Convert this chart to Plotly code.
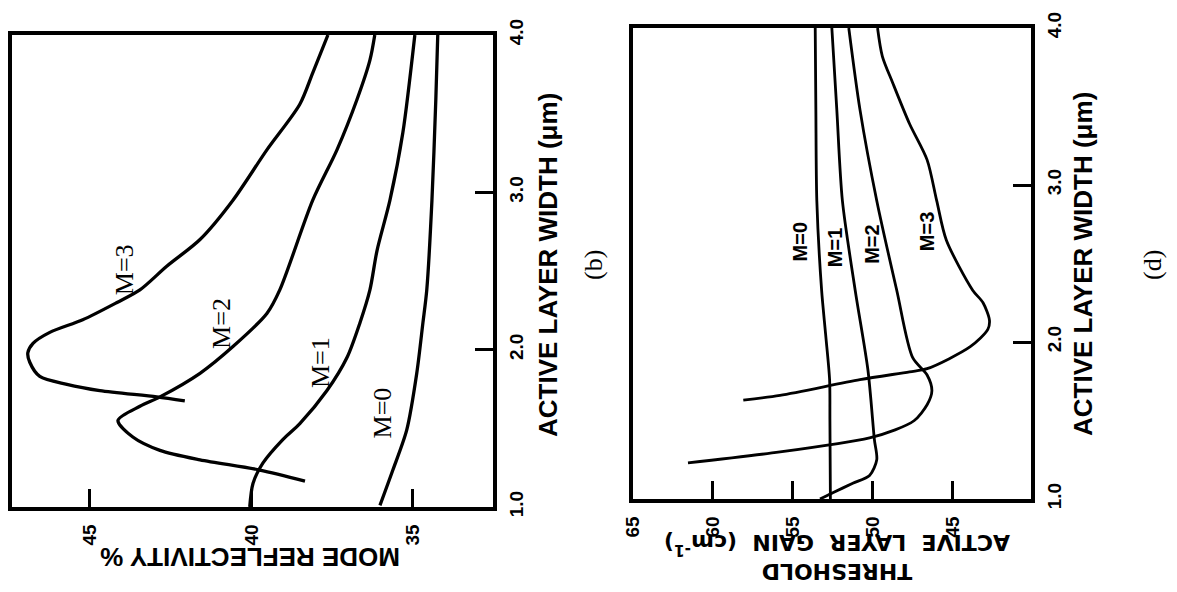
import plotly.graph_objects as go

# ---------------- Panel (b): mode reflectivity vs active layer width ----------------
b_m0_width = [1.01, 1.235, 1.49, 1.85, 2.17, 2.38, 2.95, 3.59, 4.0]
b_m0_refl = [36.02, 35.62, 35.19, 34.88, 34.69, 34.57, 34.41, 34.29, 34.23]

b_m1_width = [1.0, 1.15, 1.28, 1.43, 1.53, 1.74, 1.95, 2.17, 2.38, 2.63, 2.95, 3.38, 4.0]
b_m1_refl = [40.05, 39.95, 39.64, 39.02, 38.5, 37.66, 37.04, 36.64, 36.33, 36.11, 35.71, 35.31, 34.94]

b_m2_width = [1.165, 1.235, 1.30, 1.36, 1.445, 1.55, 1.64, 1.70, 1.85, 2.02, 2.23, 2.38, 2.95, 3.27, 3.59, 3.84, 4.0]
b_m2_refl = [38.34, 39.74, 41.59, 42.83, 43.67, 44.13, 43.45, 42.83, 41.59, 40.57, 39.52, 39.12, 38.10, 37.35, 36.73, 36.33, 36.18]

b_m3_width = [1.674, 1.70, 1.74, 1.78, 1.83, 1.92, 1.98, 2.04, 2.11, 2.19, 2.30, 2.38, 2.53, 2.70, 2.95, 3.27, 3.56, 3.76, 4.0]
b_m3_refl = [42.06, 42.93, 44.69, 45.71, 46.55, 46.86, 46.92, 46.76, 46.24, 45.22, 44.16, 43.45, 42.62, 41.59, 40.57, 39.52, 38.50, 38.10, 37.63]

b_labels = ["M=0", "M=1", "M=2", "M=3"]
b_label_refl = [35.93, 37.88, 40.91, 43.92]
b_label_width = [1.60, 1.92, 2.17, 2.51]

b_refl_ticks = [45, 40, 35]
b_width_ticks = [1.0, 2.0, 3.0, 4.0]
b_width_ticktext = ["1.0", "2.0", "3.0", "4.0"]

# ---------------- Panel (d): threshold gain vs active layer width ----------------
d_m0_width = [1.0, 1.5, 1.76, 2.05, 2.33, 2.9, 3.48, 4.0]
d_m0_gain = [52.65, 52.68, 52.7, 52.95, 53.2, 53.5, 53.56, 53.6]

d_m1_width = [1.0, 1.04, 1.10, 1.15, 1.25, 1.38, 1.82, 2.33, 2.90, 3.48, 4.0]
d_m1_gain = [53.3, 52.5, 51.25, 50.2, 49.75, 49.9, 50.3, 51.1, 51.9, 52.25, 52.56]

d_m2_width = [1.23, 1.30, 1.39, 1.44, 1.50, 1.60, 1.69, 1.79, 1.90, 2.33, 2.90, 3.48, 4.0]
d_m2_gain = [61.56, 55.8, 50.2, 48.6, 47.4, 46.6, 46.3, 46.6, 47.5, 48.5, 49.75, 50.8, 51.5]

d_m3_width = [1.63, 1.66, 1.76, 1.81, 1.83, 1.97, 2.08, 2.14, 2.25, 2.33, 2.65, 2.90, 3.16, 3.39, 3.65, 3.82, 4.0]
d_m3_gain = [58.1, 55.8, 50.8, 47.7, 46.6, 43.9, 42.8, 42.7, 43.1, 43.75, 45.4, 46.0, 46.6, 47.7, 48.75, 49.4, 49.7]

d_labels = ["M=0", "M=1", "M=2", "M=3"]
d_label_gain = [54.56, 52.4, 50.1, 46.6]
d_label_width = [2.64, 2.60, 2.62, 2.70]

d_gain_ticks = [65, 60, 55, 50, 45]
d_width_ticks = [1.0, 2.0, 3.0, 4.0]
d_width_ticktext = ["1.0", "2.0", "3.0", "4.0"]

W, H = 1177, 592


def px_x(p):
    return p / W


def px_y(p):
    return 1 - p / H


fig = go.Figure()

line_b = dict(color="black", width=3.3, shape="spline", smoothing=0.8)
line_d = dict(color="black", width=2.8, shape="spline", smoothing=0.8)

for w, r in [(b_m0_width, b_m0_refl), (b_m1_width, b_m1_refl),
             (b_m2_width, b_m2_refl), (b_m3_width, b_m3_refl)]:
    fig.add_trace(go.Scatter(x=r, y=w, mode="lines", line=line_b,
                             xaxis="x", yaxis="y", showlegend=False, hoverinfo="skip"))

for w, g in [(d_m0_width, d_m0_gain), (d_m1_width, d_m1_gain),
             (d_m2_width, d_m2_gain), (d_m3_width, d_m3_gain)]:
    fig.add_trace(go.Scatter(x=g, y=w, mode="lines", line=line_d,
                             xaxis="x2", yaxis="y2", showlegend=False, hoverinfo="skip"))

tickfont = dict(family="Liberation Sans", size=19, color="black", weight="bold")
axis_common = dict(showline=True, mirror=True, linecolor="black", linewidth=3.5,
                   showgrid=False, zeroline=False, ticks="inside", ticklen=18,
                   tickwidth=2.5, tickcolor="black", tickfont=tickfont, tickangle=-90,
                   automargin=False)

fig.update_layout(
    width=W, height=H,
    margin=dict(l=0, r=0, t=0, b=0, autoexpand=False),
    paper_bgcolor="white", plot_bgcolor="white",
    showlegend=False,
    xaxis=dict(domain=[px_x(12), px_x(493)], range=[47.41, 32.52],
               tickvals=b_refl_ticks, ticktext=[str(v) for v in b_refl_ticks],
               anchor="y", ticklabelstandoff=6, **axis_common),
    yaxis=dict(domain=[px_y(507), px_y(35)], range=[1.0, 4.0], side="right",
               tickvals=b_width_ticks, ticktext=b_width_ticktext,
               anchor="x", ticklabelstandoff=3, **axis_common),
    xaxis2=dict(domain=[px_x(633), px_x(1031)], range=[65, 40.1],
                tickvals=d_gain_ticks, ticktext=[str(v) for v in d_gain_ticks],
                anchor="y2", ticklabelstandoff=6, **axis_common),
    yaxis2=dict(domain=[px_y(499), px_y(28)], range=[1.0, 4.0], side="right",
                tickvals=d_width_ticks, ticktext=d_width_ticktext,
                anchor="x2", ticklabelstandoff=3, **axis_common),
)

title_font = dict(family="Liberation Sans", size=26, color="black", weight="bold")
gain_font = dict(family="DejaVu Sans", size=22, color="black", weight="bold")
serif_font = dict(family="Liberation Serif", size=26, color="black")
d_label_font = dict(family="Liberation Sans", size=20, color="black", weight="bold")

annotations = []


def paper_ann(text, cx, cy, angle, font):
    annotations.append(dict(text=text, x=px_x(cx), y=px_y(cy), xref="paper", yref="paper",
                            xanchor="center", yanchor="middle", showarrow=False,
                            textangle=angle, font=font))


paper_ann("MODE REFLECTIVITY %", 250, 557, 180, title_font)
paper_ann("ACTIVE LAYER WIDTH (μm)", 548, 265, -90, title_font)
paper_ann("(b)", 593, 265, -90, serif_font)
paper_ann("THRESHOLD<br>ACTIVE\u00a0 LAYER\u00a0 GAIN\u00a0 (cm<sup>-1</sup>)", 837, 557, 180, gain_font)
paper_ann("ACTIVE LAYER WIDTH (μm)", 1083, 264, -90, title_font)
paper_ann("(d)", 1152, 265, -90, serif_font)

for t, r, w in zip(b_labels, b_label_refl, b_label_width):
    annotations.append(dict(text=t, x=r, y=w, xref="x", yref="y", showarrow=False,
                            textangle=-90, font=serif_font, xanchor="center", yanchor="middle"))

for t, g, w in zip(d_labels, d_label_gain, d_label_width):
    annotations.append(dict(text=t, x=g, y=w, xref="x2", yref="y2", showarrow=False,
                            textangle=-90, font=d_label_font, xanchor="center", yanchor="middle"))

fig.update_layout(annotations=annotations)

fig.write_html("out.html")
